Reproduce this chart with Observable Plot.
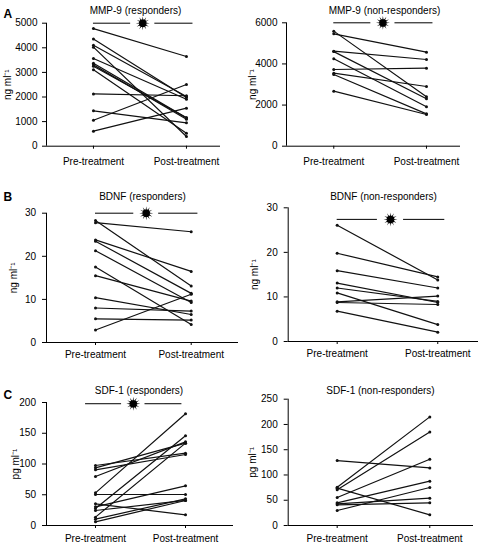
<!DOCTYPE html>
<html><head><meta charset="utf-8">
<script src="https://cdn.jsdelivr.net/npm/d3@7"></script>
<script src="https://cdn.jsdelivr.net/npm/@observablehq/plot@0.6"></script>
<style>
body{margin:0;background:#fff;}
#chart{position:relative;width:488px;height:545px;font-family:"Liberation Sans",Arial,sans-serif;}
#chart .panel{position:absolute;}
</style></head><body><div id="chart"></div>
<script>
// ---- data ----
const stages = ["Pre-treatment", "Post-treatment"];
const titles = ["MMP-9 (responders)", "MMP-9 (non-responders)", "BDNF (responders)", "BDNF (non-responders)", "SDF-1 (responders)", "SDF-1 (non-responders)"];
const yLabels = ["ng ml\u207B\u00B9", "ng ml\u207B\u00B9", "ng ml\u207B\u00B9", "ng ml\u207B\u00B9", "pg ml\u207B\u00B9", "pg ml\u207B\u00B9"];
const panelLetters = ["A", null, "B", null, "C", null];
const yMax = [5000, 6000, 30, 30, 200, 250];
const yTicks = [
  [0, 1000, 2000, 3000, 4000, 5000],
  [0, 2000, 4000, 6000],
  [0, 10, 20, 30],
  [0, 10, 20, 30],
  [0, 50, 100, 150, 200],
  [0, 50, 100, 150, 200, 250]
];
const mmp9RespPre  = [4780, 4360, 4105, 4025, 3564, 3374, 3306, 3252, 3103, 2127, 1436, 1057, 610];
const mmp9RespPost = [3645, 1980, 2020, 393, 1910, 1152, 1098, 1160, 528, 2050, 949, 2507, 1545];
const mmp9NonPre   = [5595, 5465, 4622, 4600, 4249, 3730, 3551, 3486, 2676];
const mmp9NonPost  = [2400, 4573, 4216, 2303, 1914, 3795, 2903, 1573, 1540];
const bdnfRespPre  = [28.3, 27.8, 23.8, 23.5, 21.3, 17.5, 15.5, 10.4, 8.0, 5.5, 2.9];
const bdnfRespPost = [13.1, 25.7, 16.5, 11.4, 9.3, 4.2, 9.6, 6.5, 7.3, 5.2, 11.2];
const bdnfNonPre   = [26.1, 19.8, 15.9, 13.1, 12.0, 10.9, 8.9, 8.75, 6.8];
const bdnfNonPost  = [13.8, 14.5, 12.0, 8.75, 9.0, 3.8, 10.2, 8.3, 2.1];
const sdfRespPre   = [97.6, 93.8, 90.5, 79.7, 53.1, 50.4, 35.2, 30.4, 27.6, 24.4, 13.6, 10.3, 6.0];
const sdfRespPost  = [117.6, 133.9, 115.4, 136.0, 181.6, 50.4, 17.3, 64.5, 145.8, 40.7, 133.9, 43.4, 40.7];
const sdfNonPre    = [128.6, 75.9, 73.9, 70.6, 55.4, 44.9, 42.9, 40.9, 29.7];
const sdfNonPost   = [114, 215, 21.1, 185, 131, 87.7, 54.1, 44.9, 75.2];
const preValues  = [mmp9RespPre, mmp9NonPre, bdnfRespPre, bdnfNonPre, sdfRespPre, sdfNonPre];
const postValues = [mmp9RespPost, mmp9NonPost, bdnfRespPost, bdnfNonPost, sdfRespPost, sdfNonPost];
// significance bracket level (null = not significant)
const sigLevel = [5000, 6000, 30, 27.4, 198, null];

// ---- layout ----
const layout = [
  {left: 0,   top: 0,   w: 240, h: 180, mL: 46,   mR: 20, mT: 22.7, mB: 34.3, xd: [-0.505, 1.366], xPad: 8.5, yPad: 5, titleX: 135, titleY: 6.3, labX: 7,  letY: 9.3, bShift: 0},
  {left: 240, top: 0,   w: 248, h: 180, mL: 46,   mR: 28, mT: 22.3, mB: 34.3, xd: [-0.51, 1.367],  xPad: 8.5, yPad: 5, titleX: 144, titleY: 6.3, labX: 12.5, letY: 0, bShift: 0},
  {left: 0,   top: 180, w: 240, h: 180, mL: 46,   mR: 2,  mT: 32.7, mB: 18,   xd: [-0.512, 1.494], xPad: 5.7, yPad: 6.5, titleX: 142, titleY: 12.5, labX: 13, letY: 11.5, bShift: 0},
  {left: 240, top: 180, w: 248, h: 180, mL: 47.7, mR: 10, mT: 27.3, mB: 19,   xd: [-0.487, 1.405], xPad: 5.7, yPad: 6.5, titleX: 143, titleY: 12.5, labX: 14, letY: 0, bShift: 0},
  {left: 0,   top: 360, w: 240, h: 185, mL: 46,   mR: 7,  mT: 42,   mB: 20,   xd: [-0.544, 1.533], xPad: 6, yPad: 6.5, titleX: 138.5, titleY: 26.7, labX: 15, letY: 30, bShift: -0.11},
  {left: 240, top: 360, w: 248, h: 185, mL: 47.7, mR: 15, mT: 38.7, mB: 20,   xd: [-0.529, 1.472], xPad: 6, yPad: 6.5, titleX: 140, titleY: 26.7, labX: 12.5, letY: 0, bShift: 0}
];

const burst = {
  draw(ctx, size) {
    const R = Math.sqrt(size / Math.PI);
    const n = 12;
    for (let k = 0; k < 2 * n; k++) {
      const a = k * Math.PI / n - Math.PI / 2;
      const r = k % 2 ? R * 0.36 : R;
      if (k === 0) ctx.moveTo(r * Math.cos(a), r * Math.sin(a));
      else ctx.lineTo(r * Math.cos(a), r * Math.sin(a));
    }
    ctx.closePath();
    const c = R * 0.55;
    ctx.moveTo(c, 0);
    ctx.arc(0, 0, c, 0, 2 * Math.PI);
    ctx.closePath();
  }
};

const chart = document.getElementById("chart");
const font = '"Liberation Sans", Arial, sans-serif';

layout.forEach((L, p) => {
  const rows = [];
  preValues[p].forEach((v, i) => {
    rows.push({id: i, stage: 0, value: v});
    rows.push({id: i, stage: 1, value: postValues[p][i]});
  });
  const marks = [
    Plot.ruleY([0], {stroke: "black", strokeWidth: 1}),
    Plot.ruleX([L.xd[0]], {stroke: "black", strokeWidth: 1}),
    Plot.line(rows, {x: "stage", y: "value", z: "id", stroke: "#111", strokeWidth: 1.2}),
    Plot.dot(rows, {x: "stage", y: "value", r: 1.5, fill: "#111", stroke: null}),
    Plot.text([titles[p]], {frameAnchor: "top-left", dx: L.titleX - L.mL, dy: L.titleY - L.mT, textAnchor: "middle", fontSize: 10, fill: "black"}),
    Plot.text([yLabels[p]], {frameAnchor: "left", rotate: -90, dx: L.labX - L.mL, textAnchor: "middle", fontSize: 10, fill: "black"})
  ];
  if (panelLetters[p]) {
    marks.push(Plot.text([panelLetters[p]], {frameAnchor: "top-left", dx: 3 - L.mL, dy: L.letY - L.mT, textAnchor: "start", fontSize: 12, fontWeight: "bold", fill: "black"}));
  }
  if (sigLevel[p] != null) {
    const s = L.bShift;
    marks.push(
      Plot.ruleY([sigLevel[p]], {x1: () => 0 + s, x2: () => 0.4 + s, stroke: "black", strokeWidth: 1}),
      Plot.ruleY([sigLevel[p]], {x1: () => 0.66 + s, x2: () => 1.07 + s, stroke: "black", strokeWidth: 1}),
      Plot.dot([sigLevel[p]], {x: () => 0.53 + s, y: d => d, symbol: burst, r: 7, fill: "black", stroke: null})
    );
  }
  const svg = Plot.plot({
    width: L.w, height: L.h,
    marginLeft: L.mL, marginRight: L.mR, marginTop: L.mT, marginBottom: L.mB,
    style: {fontFamily: font, fontSize: "10px", background: "transparent", overflow: "visible", color: "black"},
    x: {type: "linear", domain: L.xd, ticks: [0, 1], tickFormat: i => stages[i], tickSize: 3, tickPadding: L.xPad, label: null},
    y: {domain: [0, yMax[p]], ticks: yTicks[p], tickFormat: d3.format("d"), tickSize: 4, tickPadding: L.yPad, label: null},
    marks
  });
  svg.classList.add("panel");
  svg.style.left = L.left + "px";
  svg.style.top = L.top + "px";
  chart.appendChild(svg);
});
</script>
</body></html>
